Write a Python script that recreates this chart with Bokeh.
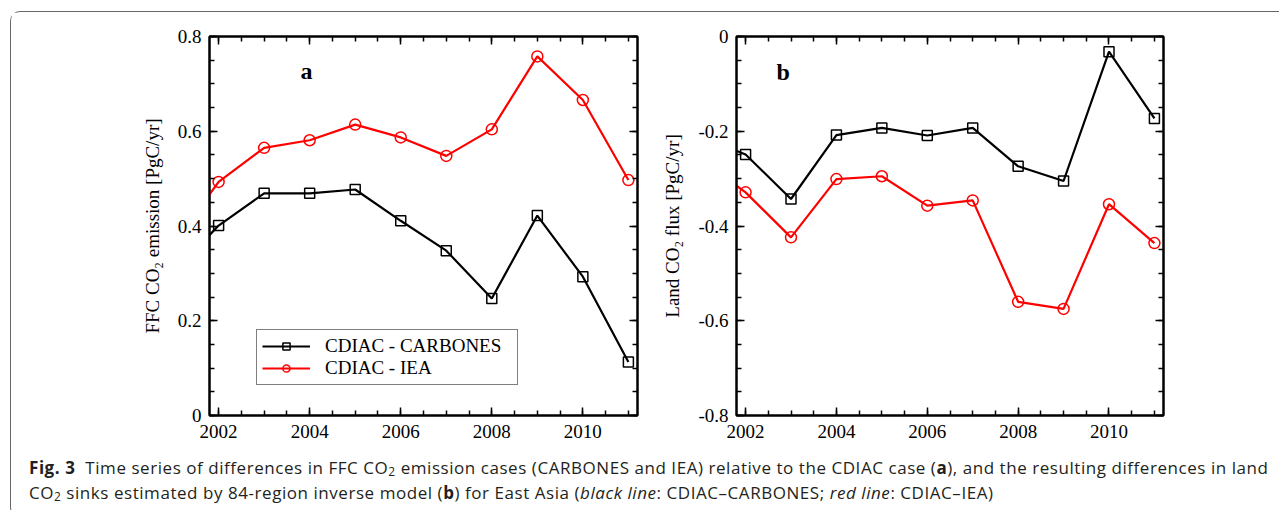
from bokeh.plotting import figure
from bokeh.models import (ColumnDataSource, FixedTicker, LinearAxis, Range1d, Legend, LegendItem,
                          Label, Div, CustomJSTickFormatter)
from bokeh.layouts import row, column
from bokeh.embed import file_html
from bokeh.resources import INLINE

# ---------------- data ----------------
years = [2001, 2002, 2003, 2004, 2005, 2006, 2007, 2008, 2009, 2010, 2011]
ffc_carbones = [0.30, 0.401, 0.469, 0.469, 0.477, 0.411, 0.348, 0.247, 0.422, 0.293, 0.113]
ffc_iea = [0.36, 0.493, 0.565, 0.581, 0.614, 0.587, 0.548, 0.604, 0.758, 0.666, 0.497]
land_carbones = [-0.21, -0.249, -0.343, -0.208, -0.193, -0.209, -0.193, -0.274, -0.305, -0.032, -0.173]
land_iea = [-0.26, -0.329, -0.424, -0.301, -0.295, -0.357, -0.346, -0.560, -0.575, -0.354, -0.436]

series_names = ["CDIAC - CARBONES", "CDIAC - IEA"]
x_major = [2002, 2004, 2006, 2008, 2010]
x_minor = [2002 + 0.5 * i for i in range(19)]
ya_major = [0, 0.2, 0.4, 0.6, 0.8]
ya_minor = [0.05 * i for i in range(17)]
yb_major = [-0.8, -0.6, -0.4, -0.2, 0]
yb_minor = [-0.8 + 0.05 * i for i in range(17)]

SERIF = "Liberation Serif"
FS = "19px"

fmt_y = CustomJSTickFormatter(code="const v = Math.round(tick*10)/10; return v === 0 ? '0' : v.toFixed(1);")


def style_axis(ax, ticks, minor, show_labels=True):
    ax.ticker = FixedTicker(ticks=ticks, minor_ticks=minor)
    ax.major_tick_in = 8
    ax.major_tick_out = 0
    ax.minor_tick_in = 5
    ax.minor_tick_out = 0
    ax.axis_line_width = 2
    ax.axis_line_color = "black"
    ax.major_tick_line_width = 1.5
    ax.minor_tick_line_width = 1.5
    ax.major_tick_line_color = "black"
    ax.minor_tick_line_color = "black"
    ax.major_label_text_font = SERIF
    ax.major_label_text_font_size = FS
    ax.major_label_text_color = "black"
    ax.axis_label_text_font = SERIF
    ax.axis_label_text_font_size = FS
    ax.axis_label_text_font_style = "normal"
    ax.axis_label_text_color = "black"
    if not show_labels:
        ax.formatter = CustomJSTickFormatter(code="return '';")
        ax.major_label_standoff = 0


def make_panel(ys_black, ys_red, yr, ymaj, ymin, ylabel, letter, lx, ly,
               width, mbl, mbr, with_legend):
    p = figure(width=width, height=435, output_backend="svg", toolbar_location=None,
               x_range=Range1d(2001.8, 2011.2), y_range=Range1d(*yr),
               min_border_left=mbl, min_border_right=mbr, min_border_top=24, min_border_bottom=32)
    p.xgrid.visible = False
    p.ygrid.visible = False
    p.outline_line_color = "black"
    p.outline_line_width = 2

    style_axis(p.xaxis[0], x_major, x_minor)
    style_axis(p.yaxis[0], ymaj, ymin)
    p.yaxis[0].formatter = fmt_y
    p.yaxis[0].axis_label = ylabel
    p.yaxis[0].major_label_standoff = 8
    p.yaxis[0].axis_label_standoff = 12
    p.xaxis[0].major_label_standoff = 9

    top = LinearAxis()
    style_axis(top, x_major, x_minor, show_labels=False)
    p.add_layout(top, "above")
    right = LinearAxis()
    style_axis(right, ymaj, ymin, show_labels=False)
    p.add_layout(right, "right")

    src = ColumnDataSource(dict(x=years, k=ys_black, r=ys_red))
    lk = p.line("x", "k", source=src, line_color="black", line_width=2.2)
    sk = p.scatter("x", "k", source=src, marker="square", size=10, fill_color=None,
                   line_color="black", line_width=1.5)
    lr = p.line("x", "r", source=src, line_color="#ff0000", line_width=2.2)
    sr = p.scatter("x", "r", source=src, marker="circle", size=11, fill_color=None,
                   line_color="#ff0000", line_width=1.5)

    p.add_layout(Label(x=lx, y=ly, text=letter, text_font=SERIF, text_font_size="24px",
                       text_font_style="bold", text_align="center", text_baseline="middle",
                       text_color="black"))

    if with_legend:
        leg = Legend(items=[LegendItem(label=series_names[0], renderers=[lk, sk]),
                            LegendItem(label=series_names[1], renderers=[lr, sr])],
                     location=(47, 30), margin=0, padding=5, spacing=0,
                     glyph_width=48, glyph_height=18, label_height=18, label_width=187,
                     label_standoff=15, label_text_font=SERIF, label_text_font_size=FS,
                     label_text_color="black", border_line_color="black", border_line_width=1.2,
                     background_fill_alpha=1)
        p.add_layout(leg, "center")
    return p


pa = make_panel(ffc_carbones, ffc_iea, (0, 0.8), ya_major, ya_minor,
                "FFC CO\u2082 emission [PgC/yr]", "a", 2003.93, 0.727,
                648, 198, 22, True)
pb = make_panel(land_carbones, land_iea, (-0.8, 0), yb_major, yb_minor,
                "Land CO\u2082 flux [PgC/yr]", "b", 2002.83, -0.074,
                610, 76, 106, False)

SUB = "<span style='font-size:70%;vertical-align:-0.2em;line-height:0'>2</span>"
caption_html = (
    "<b>Fig. 3</b>&nbsp; Time series of differences in FFC CO" + SUB + " emission cases "
    "(CARBONES and IEA) relative to the CDIAC case (<b>a</b>), and the resulting differences in land<br>"
    "CO" + SUB + " sinks estimated by 84-region inverse model (<b>b</b>) for East Asia "
    "(<i>black line</i>: CDIAC\u2013CARBONES; <i>red line</i>: CDIAC\u2013IEA)"
)
cap = Div(text=caption_html, width=1258, height=59,
          styles={"font-family": "'Open Sans', sans-serif", "font-size": "17px",
                  "line-height": "25px", "letter-spacing": "0.55px", "color": "#231f20",
                  "padding-left": "13px", "padding-top": "3px", "white-space": "nowrap",
                  "box-sizing": "border-box"})

layout = column(row(pa, pb), cap, margin=(11, 0, 0, 10),
                styles={"border": "1.3px solid #666", "border-right": "none",
                        "border-radius": "10px 0 0 10px", "background": "white"})

open("out.html", "w").write(file_html(layout, INLINE))
